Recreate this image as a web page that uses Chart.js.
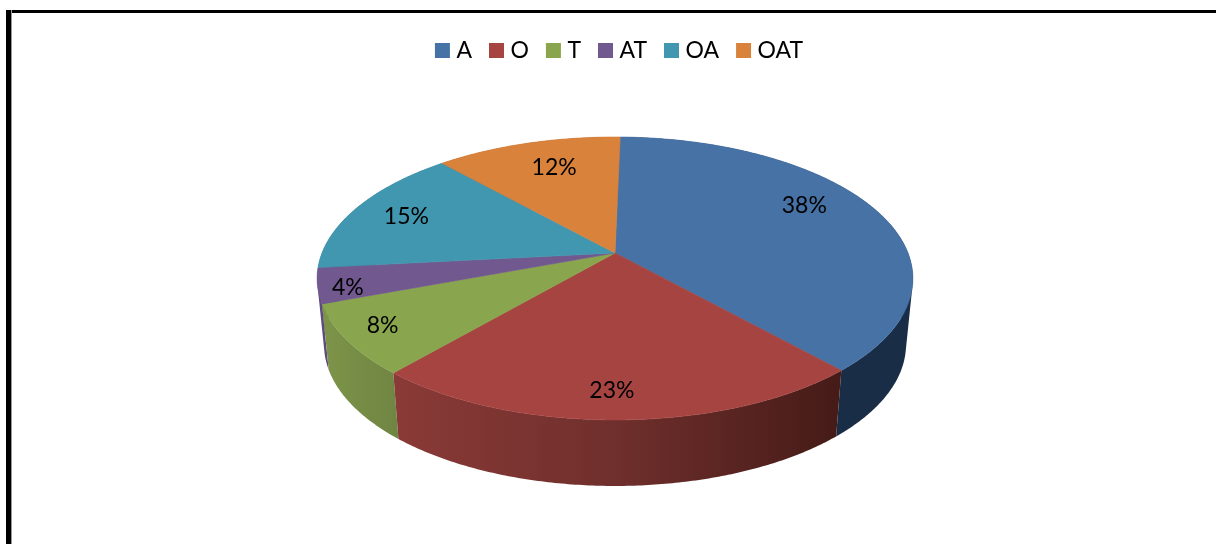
<!DOCTYPE html>
<html>
<head>
<meta charset="utf-8">
<style>
  html, body { margin: 0; padding: 0; background: #fff; overflow: hidden; }
  #stage { position: relative; width: 1216px; height: 544px; }
  #stage canvas { position: absolute; left: 0; top: 0; }
  .bar { position: absolute; background: #000; }
  #barTop { left: 6px; top: 10px; right: 0; height: 3px; }
  #barLeft { left: 6px; top: 10px; bottom: 0; width: 5px; box-shadow: 1px 0 0 #9a9a9a; }
</style>
<script src="https://cdn.jsdelivr.net/npm/chart.js@4"></script>
</head>
<body>
<div id="stage">
  <canvas id="chart" width="1216" height="544"></canvas>
  <div class="bar" id="barTop"></div>
  <div class="bar" id="barLeft"></div>
</div>
<script>
const categories = ['A', 'O', 'T', 'AT', 'OA', 'OAT'];
const shares = [38, 23, 8, 4, 15, 12];
const topColors = ['#4672a6', '#a54441', '#89a54e', '#71588f', '#4197af', '#d9823c'];
// Side wall shading, left to right across each slice's rim.
const wallColors = [
  ['#1a2d47', '#1a2d47'],
  ['#8a3a37', '#6f2f2c', '#451b17'],
  ['#7d9449', '#6f8542'],
  ['#5f4a80', '#5f4a80'],
  ['#2f7182', '#2f7182'],
  ['#a3622c', '#a3622c']
];
// Radius factor and angle nudge (degrees) for each percentage label.
const labelRadius = [0.78, 0.85, 0.87, 0.905, 0.80, 0.737];
const labelNudge = [-7.6, 1.2, 1.2, -2.4, -0.3, 1.9];

// Tilted-disc view: a perspective map from the unit disc to the page.
const view = { cx: 615, cy: 253, sx: 293, sy: 136.9, tilt: 0.18, depth: 66, shrink: 0.977 };

function project(theta, r, lower) {
  const w = -r * Math.cos(theta);
  const k = 1 / (1 - view.tilt * w);
  let x = view.sx * r * Math.sin(theta) * k;
  let y = view.cy + view.sy * w * k;
  if (lower) { x *= view.shrink; y += view.depth; }
  return { x: view.cx + x, y };
}

function arcPoints(a0, a1, lower) {
  const pts = [];
  const steps = Math.max(4, Math.ceil((a1 - a0) / 0.01));
  for (let i = 0; i <= steps; i++) pts.push(project(a0 + (a1 - a0) * i / steps, 1, lower));
  return pts;
}

function signedArea(quad) {
  let sum = 0;
  quad.forEach((p, i) => {
    const q = quad[(i + 1) % quad.length];
    sum += p.x * q.y - q.x * p.y;
  });
  return sum;
}

const tiltedPie = {
  id: 'tiltedPie',
  beforeDatasetsDraw(chart) {
    const ctx = chart.ctx;
    const arcs = chart.getDatasetMeta(0).data;
    const spans = arcs.map(el => [el.startAngle + Math.PI / 2, el.endAngle + Math.PI / 2]);

    // Rim walls, furthest slice first. Each is one path of small quads wound
    // the same way, so the tangent edges fill in without seams.
    const depthOf = s => -Math.cos((s[0] + s[1]) / 2);
    const order = spans.map((s, i) => i).sort((p, q) => depthOf(spans[p]) - depthOf(spans[q]));
    order.forEach(i => {
      const [a0, a1] = spans[i];
      const upper = arcPoints(a0, a1, false);
      const lower = arcPoints(a0, a1, true);
      const xs = upper.concat(lower).map(p => p.x);
      const grad = ctx.createLinearGradient(Math.min(...xs), 0, Math.max(...xs), 0);
      wallColors[i].forEach((c, n) => grad.addColorStop(n / (wallColors[i].length - 1), c));
      ctx.beginPath();
      for (let k = 0; k < upper.length - 1; k++) {
        const quad = [upper[k], upper[k + 1], lower[k + 1], lower[k]];
        if (signedArea(quad) < 0) quad.reverse();
        quad.forEach((p, n) => n ? ctx.lineTo(p.x, p.y) : ctx.moveTo(p.x, p.y));
        ctx.closePath();
      }
      ctx.fillStyle = grad;
      ctx.fill();
    });

    // Top faces.
    const apex = project(0, 0, false);
    spans.forEach(([a0, a1], i) => {
      ctx.beginPath();
      ctx.moveTo(apex.x, apex.y);
      arcPoints(a0, a1, false).forEach(p => ctx.lineTo(p.x, p.y));
      ctx.closePath();
      ctx.fillStyle = arcs[i].options.backgroundColor;
      ctx.strokeStyle = arcs[i].options.backgroundColor;
      ctx.lineWidth = 0.6;
      ctx.fill();
      ctx.stroke();
    });

    // Percentage labels.
    const total = shares.reduce((s, v) => s + v, 0);
    ctx.fillStyle = '#000';
    ctx.font = '23px Lato';
    ctx.textAlign = 'center';
    ctx.textBaseline = 'middle';
    spans.forEach(([a0, a1], i) => {
      const mid = (a0 + a1) / 2 + labelNudge[i] * Math.PI / 180;
      const p = project(mid, labelRadius[i], false);
      ctx.fillText(Math.round(shares[i] / total * 100) + '%', p.x, p.y);
    });
    return false;
  }
};

new Chart(document.getElementById('chart'), {
  type: 'pie',
  data: {
    labels: categories,
    datasets: [{ data: shares, backgroundColor: topColors, borderWidth: 0 }]
  },
  plugins: [tiltedPie],
  options: {
    responsive: false,
    animation: false,
    rotation: 1.2,
    layout: { padding: { top: 17, left: 27 } },
    plugins: {
      tooltip: { enabled: false },
      legend: {
        position: 'top',
        labels: {
          color: '#000',
          font: { family: 'Lato', size: 23 },
          usePointStyle: true,
          pointStyle: 'rect',
          boxWidth: 5,
          boxHeight: 15,
          padding: 22
        }
      }
    }
  }
});
</script>
</body>
</html>
